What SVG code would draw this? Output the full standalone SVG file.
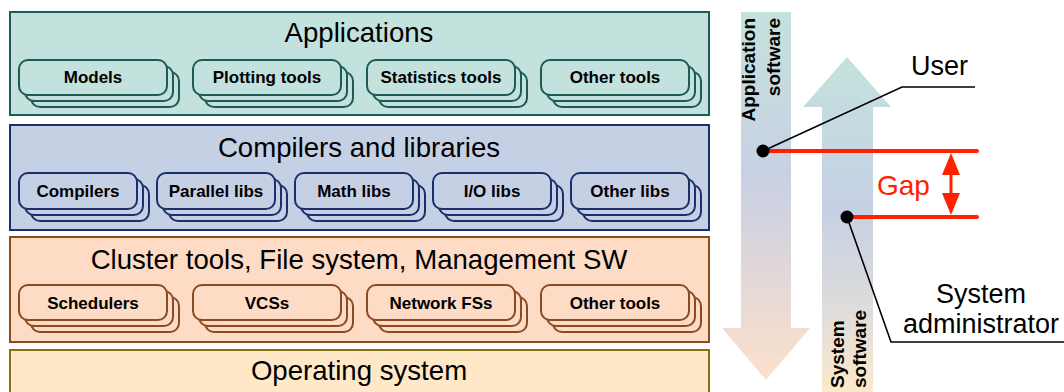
<svg xmlns="http://www.w3.org/2000/svg" width="1064" height="392" viewBox="0 0 1064 392">
<style>
.t{font-family:"Liberation Sans",Arial,sans-serif;font-size:27.6px;fill:#000;text-anchor:middle}
.b{font-family:"Liberation Sans",Arial,sans-serif;font-size:17px;font-weight:bold;fill:#000;text-anchor:middle}
.v{font-family:"Liberation Sans",Arial,sans-serif;font-size:19px;font-weight:bold;fill:#000}
.r{font-family:"Liberation Sans",Arial,sans-serif;font-size:27px;fill:#000}
.app rect,.app use{fill:#c3e1dd;stroke:#1e5b52;stroke-width:2}
.cmp rect,.cmp use{fill:#c6d0e5;stroke:#1b2f6b;stroke-width:2}
.cls rect,.cls use{fill:#fddbc5;stroke:#8b4a20;stroke-width:2}
.os rect{fill:#fee8c8;stroke:#8c6d1a;stroke-width:2}
.red{stroke:#ff2200;stroke-width:4;stroke-linecap:round;fill:none}
.blk{stroke:#000;stroke-width:1.6;fill:none}
</style>
<defs>
<linearGradient id="gDown" x1="0" y1="12" x2="0" y2="380" gradientUnits="userSpaceOnUse">
<stop offset="0" stop-color="#c4e2dd"/>
<stop offset="0.45" stop-color="#c8d0e3"/>
<stop offset="1" stop-color="#fde0cc"/>
</linearGradient>
<linearGradient id="gUp" x1="0" y1="57" x2="0" y2="392" gradientUnits="userSpaceOnUse">
<stop offset="0" stop-color="#c4e2dd"/>
<stop offset="0.45" stop-color="#c6d0e4"/>
<stop offset="0.75" stop-color="#dedcdc"/>
<stop offset="1" stop-color="#fde9c9"/>
</linearGradient>
<g id="s148"><rect x="12" y="12" width="148" height="35" rx="9"/><rect x="6" y="6" width="148" height="35" rx="9"/><rect x="0" y="0" width="148" height="35" rx="9"/></g>
<g id="s118"><rect x="12" y="12" width="118" height="36" rx="9"/><rect x="6" y="6" width="118" height="36" rx="9"/><rect x="0" y="0" width="118" height="36" rx="9"/></g>
</defs>

<g id="applications" class="app">
<rect x="10" y="12" width="699" height="103"/>
<text class="t" x="359" y="42">Applications</text>
<g id="models"><use href="#s148" x="19" y="60"/><text class="b" x="93" y="83">Models</text></g>
<g id="plotting"><use href="#s148" x="193" y="60"/><text class="b" x="267" y="83">Plotting tools</text></g>
<g id="statistics"><use href="#s148" x="367" y="60"/><text class="b" x="441" y="83">Statistics tools</text></g>
<g id="othertools1"><use href="#s148" x="541" y="60"/><text class="b" x="615" y="83">Other tools</text></g>
</g>

<g id="compilers-libraries" class="cmp">
<rect x="10" y="125" width="699" height="105"/>
<text class="t" x="359" y="157">Compilers and libraries</text>
<g id="compilers"><use href="#s118" x="19" y="173"/><text class="b" x="78" y="197">Compilers</text></g>
<g id="parallel"><use href="#s118" x="157" y="173"/><text class="b" x="216" y="197">Parallel libs</text></g>
<g id="math"><use href="#s118" x="295" y="173"/><text class="b" x="354" y="197">Math libs</text></g>
<g id="io"><use href="#s118" x="433" y="173"/><text class="b" x="492" y="197">I/O libs</text></g>
<g id="otherlibs"><use href="#s118" x="571" y="173"/><text class="b" x="630" y="197">Other libs</text></g>
</g>

<g id="cluster-tools" class="cls">
<rect x="10" y="237" width="699" height="105"/>
<text class="t" x="359" y="269">Cluster tools, File system, Management SW</text>
<g id="schedulers"><use href="#s148" x="19" y="285"/><text class="b" x="93" y="309">Schedulers</text></g>
<g id="vcss"><use href="#s148" x="193" y="285"/><text class="b" x="267" y="309">VCSs</text></g>
<g id="networkfs"><use href="#s148" x="367" y="285"/><text class="b" x="441" y="309">Network FSs</text></g>
<g id="othertools2"><use href="#s148" x="541" y="285"/><text class="b" x="615" y="309">Other tools</text></g>
</g>

<g id="operating-system" class="os">
<rect x="10" y="350" width="699" height="60"/>
<text class="t" x="359" y="380">Operating system</text>
</g>

<g id="app-software-arrow">
<polygon points="741,12 791,12 791,328 810,328 766,380 722,328 741,328" fill="url(#gDown)"/>
<text class="v" transform="translate(755,18) rotate(-90)" text-anchor="end">Application</text>
<text class="v" transform="translate(780,18) rotate(-90)" text-anchor="end">software</text>
</g>

<g id="sys-software-arrow">
<polygon points="822,392 822,107 803,107 847,57 891,107 873,107 873,392" fill="url(#gUp)"/>
<text class="v" transform="translate(844,388) rotate(-90)">System</text>
<text class="v" transform="translate(866,388) rotate(-90)">software</text>
</g>

<g id="user">
<text class="r" x="911" y="75">User</text>
</g>
<g id="sysadmin">
<text class="r" x="981" y="303" text-anchor="middle">System</text>
<text class="r" x="981" y="333" text-anchor="middle">administrator</text>
</g>
<g id="gap-label">
<text class="r" x="877" y="195" style="fill:#ff2200;font-size:28px">Gap</text>
</g>

<g id="connectors">
<polyline class="blk" points="763,151 902,87 975,87"/>
<polyline class="blk" points="847,217 891,342 1064,342"/>
<line class="red" x1="763" y1="151" x2="977" y2="151"/>
<line class="red" x1="847" y1="217" x2="977" y2="217"/>
<line x1="951" y1="170" x2="951" y2="198" stroke="#ff2200" stroke-width="3"/>
<polygon points="951,153 960,175 942,175" fill="#ff2200"/>
<polygon points="951,215 960,193 942,193" fill="#ff2200"/>
<circle cx="763" cy="151" r="6.5" fill="#000"/>
<circle cx="847" cy="217" r="6.5" fill="#000"/>
</g>
</svg>
